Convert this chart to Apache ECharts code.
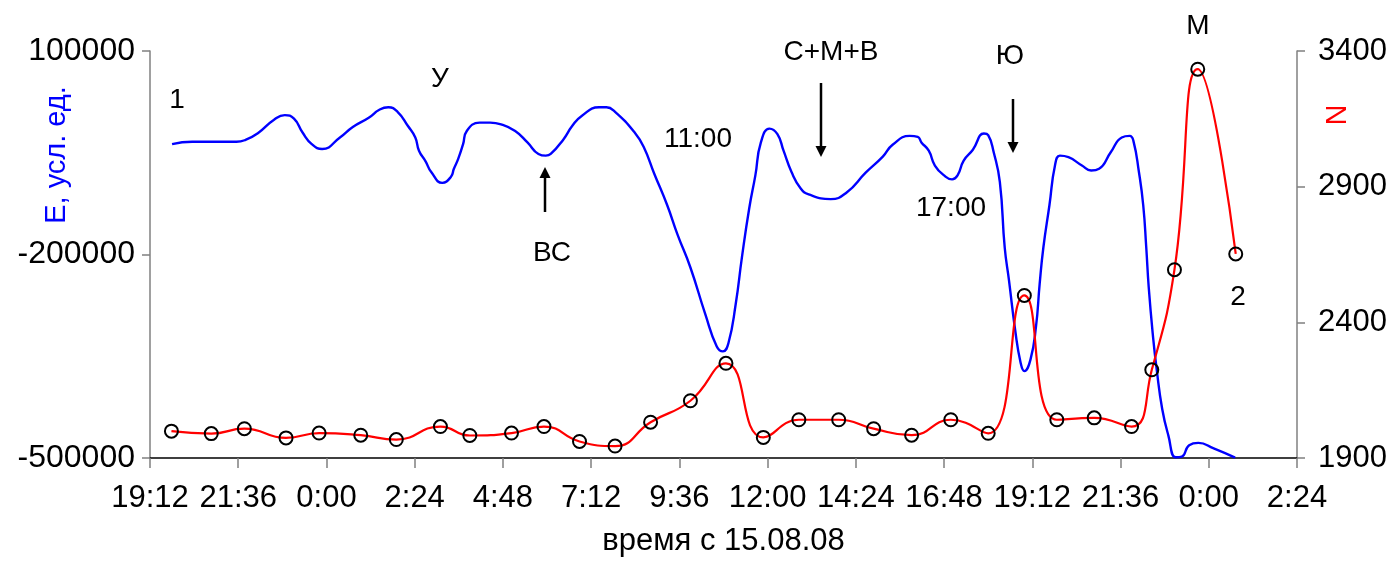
<!DOCTYPE html>
<html>
<head>
<meta charset="utf-8">
<script src="https://cdn.jsdelivr.net/npm/echarts@6/dist/echarts.min.js"></script>
<style>html,body{margin:0;padding:0;background:#fff}#c{width:1391px;height:562px}</style>
</head>
<body>
<div id="c"></div>
<script>
// time axis in minutes from the start of 14.08 (1152 = 19:12)
const xMin = 1152, xMax = 3024, xStep = 144;
const leftTicks = [-500000, -200000, 100000];
const rightTicks = [1900, 2400, 2900, 3400];

// Series 1: E, conventional units (blue, left axis)
const eTime = [1188,1221,1293,1308,1328,1355,1372,1387,1401,1416,1433,1462,1483,1509,1527,1541,1556,1573,1585,1591,1602,1611,1629,1643,1648,1655,1663,1669,1690,1707,1725,1748,1768,1786,1798,1806,1827,1841,1856,1885,1897,1911,1943,1958,1975,1996,2013,2034,2058,2077,2087,2096,2108,2118,2130,2140,2149,2163,2176,2186,2199,2214,2227,2263,2289,2320,2348,2364,2392,2405,2411,2423,2433,2448,2461,2470,2480,2495,2513,2520,2529,2539,2547,2554,2564,2573,2579,2589,2598,2604,2610,2620,2629,2637,2651,2673,2688,2701,2720,2738,2751,2757,2766,2773,2778,2782,2789,2795,2804,2814,2826,2836,2848,2863,2888,2923];
const eValue = [-37235,-33888,-33888,-30977,-21226,-851,5405,170,-20208,-37235,-44511,-27484,-12058,1622,13701,17048,10354,-10603,-27484,-46985,-62994,-78420,-94428,-85696,-73617,-59064,-37235,-17879,-5655,-5655,-8129,-17879,-34761,-51788,-54262,-51788,-29958,-10603,3950,17048,17048,10354,-20208,-42037,-80894,-127027,-170686,-219147,-287110,-335571,-342848,-330769,-272557,-204594,-131829,-83368,-34761,-14387,-22682,-46985,-78420,-102723,-111455,-118295,-108545,-79438,-55717,-38254,-25156,-26611,-34761,-46985,-68815,-83368,-89189,-83368,-61538,-45530,-21663,-24137,-49314,-92973,-190041,-238503,-311268,-359875,-371954,-354927,-306466,-243451,-190041,-127027,-68815,-54262,-56590,-68815,-76091,-73617,-49314,-27484,-25156,-32432,-78420,-127027,-190041,-248253,-321018,-369480,-427692,-466548,-499000,-498000,-481101,-477754,-485904,-499500];

// Series 2: N (red, right axis) with markers
const nTime = [1187,1252,1306,1374,1428,1496,1554,1626,1674,1742,1795,1853,1911,1969,2034,2092,2153,2211,2276,2333,2395,2459,2520,2579,2632,2693,2754,2787,2824,2862,2924];
const nValue = [1999,1990,2008,1974,1992,1984,1968,2016,1983,1992,2016,1961,1944,2032,2111,2249,1976,2041,2041,2008,1984,2041,1991,2499,2041,2048,2016,2225,2594,3333,2652];

const FONT = '"Liberation Sans", Arial, sans-serif';

function fmtTime(v) {
  const h = Math.floor(v / 60) % 24;
  const m = Math.round(v % 60);
  return h + ':' + (m < 10 ? '0' + m : m);
}

const chart = echarts.init(document.getElementById('c'), null, {renderer: 'canvas'});

function txt(x, y, s, size, color, rot) {
  return {type: 'text', x: x, y: y, rotation: rot || 0, z: 100,
    style: {text: s, fill: color || '#000', font: (size || 28) + 'px ' + FONT, align: 'center', verticalAlign: 'middle'}};
}
function arrow(x, y1, y2) { // from y1 (tail) to y2 (tip)
  const dir = y2 > y1 ? 1 : -1;
  const headLen = 11, headW = 5.5;
  return [
    {type: 'line', z: 100, shape: {x1: x, y1: y1, x2: x, y2: y2 - dir * headLen}, style: {stroke: '#000', lineWidth: 2.5}},
    {type: 'polygon', z: 100, shape: {points: [[x, y2], [x - headW, y2 - dir * headLen], [x + headW, y2 - dir * headLen]]}, style: {fill: '#000'}}
  ];
}

const option = {
  backgroundColor: '#fff',
  animation: false,
  grid: {left: 150, right: 94, top: 51, bottom: 99, containLabel: false},
  xAxis: {
    type: 'value', min: xMin, max: xMax, interval: xStep,
    name: 'время с 15.08.08', nameLocation: 'middle', nameGap: 68,
    nameTextStyle: {fontSize: 31, fontFamily: FONT, color: '#000'},
    axisLine: {onZero: false, lineStyle: {color: '#000', width: 1.5}},
    axisTick: {show: true, length: 10, lineStyle: {color: '#808080', width: 1.5}},
    axisLabel: {fontSize: 31, fontFamily: FONT, color: '#000', margin: 25, formatter: fmtTime},
    splitLine: {show: false}
  },
  yAxis: [{
    type: 'value', position: 'left', min: leftTicks[0], max: leftTicks[leftTicks.length - 1], interval: 300000,
    axisLine: {show: true, onZero: false, lineStyle: {color: '#808080', width: 1.5}},
    axisTick: {show: true, length: 8, lineStyle: {color: '#808080', width: 1.5}},
    axisLabel: {fontSize: 32, fontFamily: FONT, color: '#000', margin: 15, formatter: v => String(v)},
    splitLine: {show: false}
  }, {
    type: 'value', position: 'right', min: rightTicks[0], max: rightTicks[rightTicks.length - 1], interval: 500,
    axisLine: {show: true, onZero: false, lineStyle: {color: '#808080', width: 1.5}},
    axisTick: {show: true, length: 8, lineStyle: {color: '#808080', width: 1.5}},
    axisLabel: {fontSize: 31, fontFamily: FONT, color: '#000', margin: 21, formatter: v => String(v)},
    splitLine: {show: false}
  }],
  series: [{
    name: 'E', type: 'line', yAxisIndex: 0,
    data: eTime.map((t, i) => [t, eValue[i]]),
    smooth: 0.5, showSymbol: false, symbol: 'none',
    lineStyle: {color: '#0000ff', width: 2.4}, z: 2
  }, {
    name: 'N', type: 'line', yAxisIndex: 1,
    data: nTime.map((t, i) => [t, nValue[i]]),
    smooth: 0.5,
    symbol: 'circle', symbolSize: 13, showSymbol: true,
    itemStyle: {color: 'rgba(255,255,255,0)', borderColor: '#000', borderWidth: 2},
    lineStyle: {color: '#ff0000', width: 2.2}, z: 3
  }],
  graphic: [
    txt(57, 155, 'Е, усл. ед.', 29, '#0000ff', Math.PI / 2),
    txt(1334, 115, 'N', 29, '#ff0000', -Math.PI / 2),
    txt(177, 100, '1', 28),
    txt(440, 79, 'У', 28),
    txt(552, 253, 'ВС', 28),
    txt(698, 139, '11:00', 28),
    txt(831, 52, 'С+М+В', 28),
    txt(951, 208, '17:00', 28),
    txt(1010, 56, 'Ю', 28),
    txt(1198, 26, 'М', 28),
    txt(1238, 297, '2', 28),
    ...arrow(545, 212, 167),
    ...arrow(821, 83, 157),
    ...arrow(1013, 99, 153)
  ]
};
chart.setOption(option);
</script>
</body>
</html>
